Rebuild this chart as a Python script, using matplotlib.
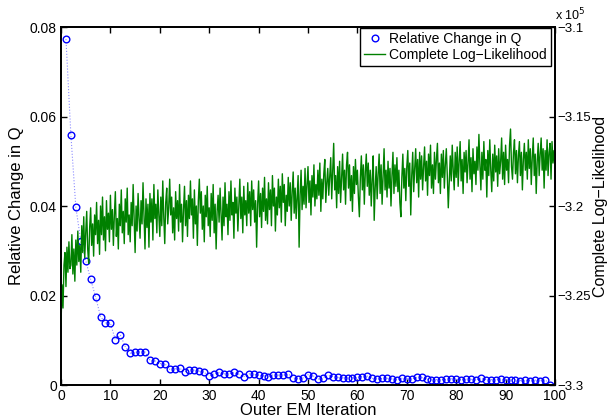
import numpy as np
import matplotlib
matplotlib.use("Agg")
import matplotlib.pyplot as plt
from matplotlib.ticker import FuncFormatter

plt.rcParams['font.family'] = ['Liberation Sans', 'DejaVu Sans']

# relative change in Q, one value per outer EM iteration (1..99)
rel_change_q = [
    0.0773, 0.0558, 0.0397, 0.0322, 0.0278, 0.0236, 0.0197, 0.0153, 0.0139, 0.0138,
    0.0101, 0.0112, 0.0086, 0.0071, 0.0073, 0.0074, 0.0074, 0.0056, 0.0054, 0.0048,
    0.0048, 0.0035, 0.0036, 0.0038, 0.0029, 0.0034, 0.0033, 0.0031, 0.0028, 0.0021,
    0.0025, 0.0028, 0.0025, 0.0025, 0.0028, 0.0024, 0.0019, 0.0025, 0.0024, 0.0022,
    0.0021, 0.0019, 0.0023, 0.0022, 0.0022, 0.0025, 0.0016, 0.0014, 0.0016, 0.0023,
    0.0021, 0.0013, 0.0016, 0.0022, 0.0019, 0.0017, 0.0016, 0.0016, 0.0016, 0.0017,
    0.0019, 0.0020, 0.0015, 0.0013, 0.0015, 0.0015, 0.0014, 0.0012, 0.0015, 0.0014,
    0.0014, 0.0017, 0.0017, 0.0013, 0.0012, 0.0012, 0.0012, 0.0013, 0.0014, 0.0013,
    0.0012, 0.0013, 0.0013, 0.0011, 0.0016, 0.0012, 0.0012, 0.0012, 0.0014, 0.0011,
    0.0011, 0.0012, 0.0010, 0.0011, 0.0010, 0.0011, 0.0010, 0.0012, 0.0001,
]
outer_iter = np.arange(1, len(rel_change_q) + 1)

# complete log-likelihood (x 1e5), 5 inner steps per outer iteration
loglik_1e5 = [
    -3.2665, -3.2440, -3.2570, -3.2330, -3.2260, -3.2450, -3.2230, -3.2370, -3.2200, -3.2350,
    -3.2330, -3.2160, -3.2380, -3.2240, -3.2420, -3.2190, -3.2330, -3.2140, -3.2310, -3.2220,
    -3.2370, -3.2110, -3.2260, -3.2060, -3.2290, -3.2150, -3.2030, -3.2240, -3.2320, -3.2120,
    -3.2010, -3.2220, -3.2100, -3.2280, -3.2050, -3.2160, -3.1980, -3.2210, -3.2080, -3.2270,
    -3.2000, -3.2160, -3.1950, -3.2190, -3.2060, -3.2250, -3.1970, -3.2130, -3.2040, -3.2200,
    -3.1940, -3.2130, -3.2020, -3.2220, -3.2050, -3.1920, -3.2170, -3.2070, -3.2240, -3.1990,
    -3.2110, -3.1910, -3.2150, -3.2030, -3.2210, -3.1960, -3.2090, -3.1900, -3.2160, -3.2050,
    -3.2200, -3.1980, -3.2110, -3.1880, -3.2080, -3.2260, -3.2000, -3.2140, -3.1930, -3.2070,
    -3.2180, -3.1970, -3.2100, -3.1870, -3.2060, -3.2240, -3.1960, -3.2120, -3.1990, -3.2230,
    -3.1930, -3.2090, -3.1960, -3.2190, -3.1880, -3.2070, -3.1990, -3.2150, -3.1910, -3.2050,
    -3.2170, -3.1950, -3.2110, -3.1860, -3.2060, -3.2210, -3.1980, -3.1900, -3.2100, -3.2010,
    -3.1850, -3.2050, -3.1950, -3.2150, -3.2010, -3.2190, -3.1920, -3.2070, -3.1970, -3.2140,
    -3.1880, -3.2090, -3.1990, -3.2200, -3.2020, -3.1890, -3.2110, -3.1970, -3.2170, -3.1940,
    -3.2070, -3.1860, -3.2050, -3.1960, -3.2180, -3.1910, -3.2100, -3.2000, -3.2220, -3.1970,
    -3.1850, -3.2040, -3.1920, -3.2130, -3.2000, -3.2200, -3.1940, -3.2060, -3.1890, -3.2110,
    -3.2010, -3.2170, -3.1930, -3.2080, -3.1880, -3.2150, -3.1990, -3.2240, -3.2030, -3.1940,
    -3.2090, -3.1900, -3.2040, -3.2190, -3.1950, -3.2110, -3.1870, -3.2060, -3.1990, -3.2160,
    -3.1920, -3.2080, -3.1860, -3.2050, -3.1980, -3.2180, -3.1900, -3.2040, -3.1950, -3.2140,
    -3.2000, -3.1850, -3.2070, -3.1950, -3.2150, -3.1890, -3.2050, -3.1970, -3.2110, -3.1870,
    -3.2040, -3.1920, -3.2110, -3.1860, -3.2020, -3.1910, -3.2090, -3.1970, -3.2230, -3.1990,
    -3.1860, -3.2060, -3.1930, -3.2120, -3.1900, -3.2030, -3.1840, -3.2080, -3.1960, -3.2100,
    -3.1870, -3.2020, -3.1910, -3.2110, -3.1830, -3.2000, -3.1900, -3.2140, -3.1950, -3.2050,
    -3.1850, -3.2010, -3.1890, -3.2090, -3.1820, -3.1980, -3.1880, -3.2110, -3.1940, -3.2030,
    -3.1840, -3.2000, -3.1870, -3.2080, -3.1920, -3.1810, -3.2040, -3.1900, -3.2070, -3.1950,
    -3.1830, -3.2230, -3.1940, -3.1800, -3.2020, -3.1890, -3.1990, -3.1790, -3.2010, -3.1880,
    -3.1780, -3.1980, -3.1860, -3.2050, -3.1830, -3.1950, -3.1770, -3.2000, -3.1880, -3.1960,
    -3.1800, -3.1940, -3.1760, -3.2030, -3.1850, -3.1960, -3.1820, -3.1740, -3.1980, -3.1870,
    -3.1790, -3.1940, -3.1840, -3.1730, -3.1960, -3.1810, -3.1650, -3.1910, -3.1830, -3.2010,
    -3.1780, -3.1930, -3.1750, -3.1980, -3.1840, -3.1710, -3.1910, -3.1800, -3.1990, -3.1770,
    -3.1700, -3.1900, -3.1770, -3.1970, -3.1830, -3.2030, -3.1780, -3.1930, -3.1740, -3.1880,
    -3.1800, -3.1950, -3.2060, -3.1840, -3.1720, -3.1910, -3.1770, -3.1990, -3.1810, -3.1710,
    -3.1890, -3.1760, -3.1940, -3.1800, -3.2000, -3.1850, -3.1720, -3.2080, -3.1900, -3.1780,
    -3.1960, -3.1820, -3.1710, -3.1930, -3.1770, -3.1990, -3.1840, -3.1680, -3.1910, -3.1800,
    -3.1950, -3.1750, -3.1900, -3.1790, -3.2000, -3.1830, -3.1700, -3.1930, -3.1770, -3.1890,
    -3.1730, -3.1920, -3.1800, -3.1980, -3.2060, -3.1840, -3.1710, -3.1900, -3.1790, -3.1970,
    -3.1780, -3.1690, -3.1890, -3.1760, -3.2050, -3.1830, -3.1700, -3.1920, -3.1790, -3.1680,
    -3.1870, -3.1740, -3.1950, -3.1700, -3.1850, -3.1720, -3.1910, -3.1780, -3.1670, -3.1860,
    -3.1750, -3.1940, -3.1710, -3.1830, -3.1660, -3.1900, -3.1770, -3.1930, -3.1700, -3.1850,
    -3.1740, -3.1650, -3.1870, -3.1760, -3.1930, -3.1710, -3.1840, -3.1690, -3.1900, -3.1770,
    -3.1680, -3.1830, -3.2010, -3.1870, -3.1720, -3.1860, -3.1660, -3.1800, -3.1910, -3.1700,
    -3.1840, -3.1670, -3.1890, -3.1750, -3.1640, -3.1860, -3.1740, -3.1930, -3.1700, -3.1810,
    -3.1690, -3.1870, -3.1760, -3.1630, -3.1850, -3.1730, -3.1920, -3.1680, -3.1820, -3.1750,
    -3.1880, -3.1670, -3.1800, -3.1600, -3.1770, -3.1910, -3.1700, -3.1850, -3.1640, -3.1800,
    -3.1740, -3.1950, -3.1690, -3.1830, -3.1630, -3.1800, -3.1920, -3.1710, -3.1860, -3.1660,
    -3.1810, -3.1720, -3.1890, -3.1680, -3.1820, -3.1750, -3.1620, -3.1850, -3.1700, -3.1880,
    -3.1660, -3.1800, -3.1740, -3.1870, -3.1660, -3.1570, -3.1780, -3.1850, -3.1700, -3.1630,
    -3.1820, -3.1690, -3.1870, -3.1720, -3.1640, -3.1830, -3.1700, -3.1910, -3.1740, -3.1650,
    -3.1800, -3.1700, -3.1850, -3.1630, -3.1790, -3.1680, -3.1880, -3.1730, -3.1620, -3.1830,
    -3.1710, -3.1930, -3.1750, -3.1650, -3.1830, -3.1710, -3.1620, -3.1800, -3.1680, -3.1900,
    -3.1690, -3.1800, -3.1630, -3.1830, -3.1700, -3.1650, -3.1850, -3.1640, -3.1760, -3.1690,
    -3.1780,
]
inner_iter = np.arange(len(loglik_1e5)) / 5.0

fig = plt.figure(figsize=(6.09, 4.18), dpi=100)
ax = fig.add_axes([0.1002, 0.0789, 0.8111, 0.8565])

# dotted connector drawn faint, markers on top
ax.plot(outer_iter, rel_change_q, linestyle=':', linewidth=0.8,
        color=(0.55, 0.55, 1.0))
h1, = ax.plot(outer_iter, rel_change_q, linestyle='none',
              color='blue', marker='o', markersize=4.8, markerfacecolor='none',
              markeredgewidth=1.0, label='Relative Change in Q')
ax.set_xlim(0, 100)
ax.set_ylim(0, 0.08)
ax.set_xticks(np.arange(0, 101, 10))
ax.set_yticks([0, 0.02, 0.04, 0.06, 0.08])
ax.yaxis.set_major_formatter(FuncFormatter(lambda v, p: '0' if v == 0 else '%g' % v))
ax.tick_params(direction='in', length=4, width=1, labelsize=10, top=True,
               right=False, pad=3)
ax.set_xlabel('Outer EM Iteration', fontsize=12, labelpad=0)
ax.set_ylabel('Relative Change in Q', fontsize=12, labelpad=4)

ax2 = ax.twinx()
h2, = ax2.plot(inner_iter, loglik_1e5, color=(0, 0.5, 0), linewidth=1.0,
               label='Complete Log\u2212Likelihood')
ax2.set_ylim(-3.3, -3.1)
ax2.set_yticks([-3.3, -3.25, -3.2, -3.15, -3.1])
ax2.yaxis.set_major_formatter(FuncFormatter(lambda v, p: ('%g' % v).replace('-', '\u2212')))
ax2.tick_params(direction='in', length=4, width=1, labelsize=9.5, pad=2)
ax2.set_ylabel('Complete Log\u2212Likelihood', fontsize=11.5, labelpad=1)

for a in (ax, ax2):
    for s in a.spines.values():
        s.set_linewidth(1.3)

fig.text(0.912, 0.952, r'x 10$^5$', fontsize=9, ha='left', va='baseline')

leg = ax2.legend(handles=[h1, h2], loc='upper right',
                 bbox_to_anchor=(0.992, 0.997), borderaxespad=0,
                 fontsize=10, frameon=True, fancybox=False,
                 handlelength=1.5, handletextpad=0.3, borderpad=0.3,
                 labelspacing=0.15)
leg.get_frame().set_edgecolor('black')
leg.get_frame().set_linewidth(1.0)
leg.get_frame().set_alpha(1)

fig.savefig('out.png', dpi=100)
